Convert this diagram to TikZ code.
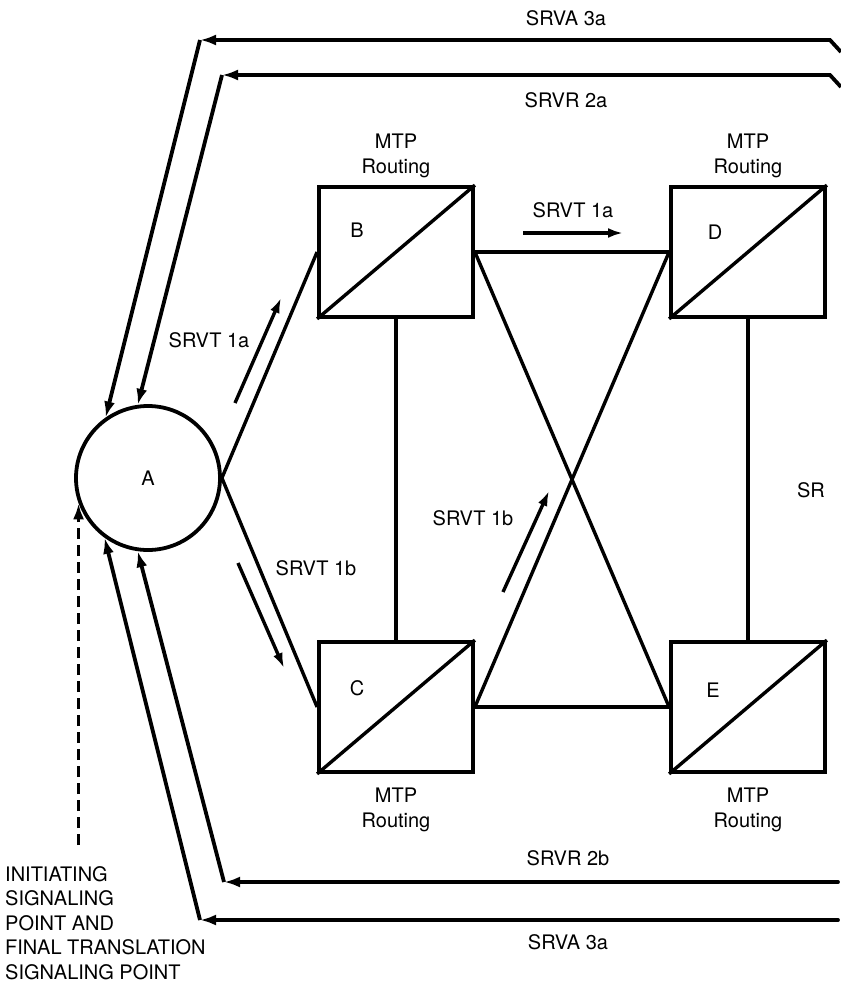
\documentclass[tikz,border=0pt]{standalone}
\usepackage{fontspec}
\setmainfont{TeX Gyre Heros}
\usepackage{tikz}
\usetikzlibrary{arrows.meta,calc}
\tikzset{
    mtpbox/.style={draw,line width=3.8pt,minimum width=154pt,minimum height=130pt,inner sep=0pt},
    link/.style={line width=3.4pt},
    sig/.style={line width=3.8pt,-{Latex[length=16pt,width=11pt]}},
    hint/.style={line width=3.4pt,-{Latex[length=15pt,width=10pt]}},
    lbl/.style={font=\fontsize{20}{25}\selectfont,align=center,inner sep=0pt},
}

\begin{document}
\begin{tikzpicture}[x=1pt,y=-1pt]
    \useasboundingbox (0,0) rectangle (841,994);
    \node[draw,circle,line width=3.8pt,minimum size=144pt,inner sep=0pt] (a) at (148,478) {};
    \node[lbl] (al) at (a.center) {A};
    \node[mtpbox] (b) at (396,252) {};
    \node[mtpbox] (c) at (396,707) {};
    \node[mtpbox] (d) at (748,252) {};
    \node[mtpbox] (e) at (748,707) {};
    \foreach \n in {b,c,d,e}
        \draw[link] (\n.south west) -- (\n.north east);
    \node[lbl] (bl) at (357,230) {B};
    \node[lbl] (cl) at (357,688) {C};
    \node[lbl] (dl) at (715,232) {D};
    \node[lbl] (el) at (713,690) {E};
    \node[lbl] (bmtp) at (396,156) {MTP\\Routing};
    \node[lbl] (dmtp) at (748,156) {MTP\\Routing};
    \node[lbl] (cmtp) at (396,810) {MTP\\Routing};
    \node[lbl] (emtp) at (748,810) {MTP\\Routing};

    \draw[link] (a.east) -- (b.west);
    \draw[link] (a.east) -- (c.west);
    \draw[link] (b.south) -- (c.north);
    \draw[link] (d.south) -- (e.north);
    \draw[link] (b.east) -- (d.west);
    \draw[link] (b.east) -- (e.west);
    \draw[link] (c.east) -- (d.west);
    \draw[link] (c.east) -- (e.west);

    \coordinate (t1a) at (235,403);
    \coordinate (h1a) at (281,298);
    \coordinate (t1b) at (238,563);
    \coordinate (h1b) at (284,668);
    \coordinate (u1a) at (523,233);
    \coordinate (v1a) at (623,233);
    \coordinate (u1b) at (503,592);
    \coordinate (v1b) at (549,491);
    \draw[hint] (t1a) -- (h1a);
    \draw[hint] (t1b) -- (h1b);
    \draw[hint] (u1a) -- (v1a);
    \draw[hint] (u1b) -- (v1b);
    \node[lbl] (s1al) at (209,340) {SRVT 1a};
    \node[lbl] (s1at) at (573,210) {SRVT 1a};
    \node[lbl] (s1bl) at (316,568) {SRVT 1b};
    \node[lbl] (s1bm) at (473,518) {SRVT 1b};
    \node[lbl] (sr) at (811,490) {SR};

    \coordinate (e3a) at (841,52);
    \coordinate (r3a) at (830,40);
    \coordinate (k3a) at (200,40);
    \coordinate (e2a) at (841,87);
    \coordinate (r2a) at (830,75);
    \coordinate (k2a) at (222,75);
    \coordinate (r2b) at (838,882);
    \coordinate (k2b) at (224,882);
    \coordinate (r3b) at (838,920);
    \coordinate (k3b) at (200,920);
    \coordinate (dbot) at (80,845);
    \draw[sig] (e3a) -- (r3a) -- (k3a);
    \draw[sig] (k3a) -- (a.125);
    \draw[sig] (e2a) -- (r2a) -- (k2a);
    \draw[sig] (k2a) -- (a.98);
    \draw[sig,line cap=round] (r2b) -- (k2b);
    \draw[sig] (k2b) -- (a.262);
    \draw[sig,line cap=round] (r3b) -- (k3b);
    \draw[sig] (k3b) -- (a.234);
    \draw[sig,dash pattern=on 11pt off 6pt] (a.200 |- dbot) -- (a.200);

    \node[lbl] (s3at) at (566,18) {SRVA 3a};
    \node[lbl] (s2at) at (566,100) {SRVR 2a};
    \node[lbl] (s2bb) at (568,858) {SRVR 2b};
    \node[lbl] (s3ab) at (568,942) {SRVA 3a};
    \node[lbl,align=left,anchor=north west,font=\fontsize{20}{24.5}\selectfont] (init) at (5,866) {INITIATING\\SIGNALING\\POINT AND\\FINAL TRANSLATION\\SIGNALING POINT};
\end{tikzpicture}
\end{document}
